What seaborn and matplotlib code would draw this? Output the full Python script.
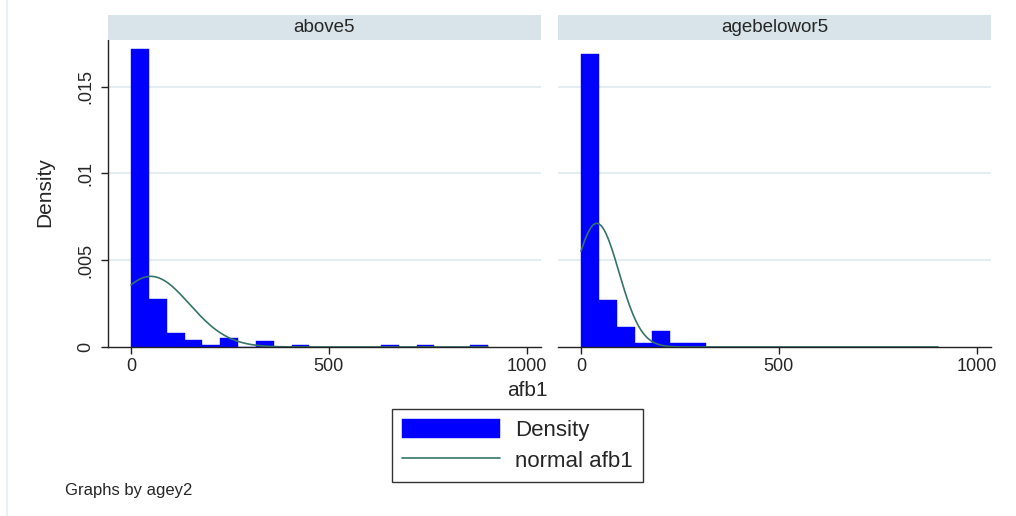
import numpy as np
import pandas as pd
import matplotlib
matplotlib.use("Agg")
import matplotlib.pyplot as plt
from matplotlib.lines import Line2D
import seaborn as sns

# Histogram of afb1 by age group (common bins across groups)
groups = ["above5", "agebelowor5"]
bin_start = 0.0
bin_width = 45.1
n_bins = 20

density_above5 = [0.01715, 0.00275, 0.00083, 0.00042, 0.000135, 0.00050, 0.0, 0.00035,
                  0.0, 0.000135, 0.0, 0.0, 0.0, 0.0, 0.000135, 0.0, 0.000135, 0.0, 0.0, 0.000135]
density_below5 = [0.01690, 0.00271, 0.00114, 0.00025, 0.00090, 0.00025, 0.00025, 0.0,
                  0.0, 0.0, 0.0, 0.0, 0.0, 0.0, 0.0, 0.0, 0.0, 0.0, 0.0, 0.0]

# Fitted normal parameters per group
normal_mean = [50.0, 40.0]
normal_sd = [98.0, 56.0]

x_ticks = [0, 500, 1000]
y_ticks = [0, 0.005, 0.01, 0.015]
y_ticklabels = ["0", ".005", ".01", ".015"]

sns.set_style("white")
plt.rcParams["font.family"] = ["Liberation Sans", "DejaVu Sans"]

W, H = 1016, 516
fig = plt.figure(figsize=(W / 100, H / 100), dpi=100)
fig.patch.set_facecolor("white")

BAR_C = "#0000ff"
LINE_C = "#357569"
GRID_C = "#e4eef1"
STRIP_C = "#d8e4ea"
AX_C = "#222222"

TICK_FS = 13
STRIP_FS = 13.5
TITLE_FS = 15
LEGEND_FS = 16
NOTE_FS = 12

bin_end = bin_start + bin_width * n_bins
centers = bin_start + bin_width * (np.arange(n_bins) + 0.5)
x_curve = np.linspace(bin_start, bin_end, 400)


def frac_rect(x0, y0, x1, y1):
    return [x0 / W, 1 - y1 / H, (x1 - x0) / W, (y1 - y0) / H]


panels = [(108, 541), (558, 991)]
plot_top, plot_bottom = 40, 347
dens_all = [density_above5, density_below5]

first_ax = None
for i, (g, (px0, px1)) in enumerate(zip(groups, panels)):
    ax = fig.add_axes(frac_rect(px0, plot_top, px1, plot_bottom))
    df = pd.DataFrame({"afb1": centers, "dens": dens_all[i]})
    sns.histplot(data=df, x="afb1", weights="dens", bins=n_bins,
                 binrange=(bin_start, bin_end), stat="count",
                 color=BAR_C, alpha=1.0, edgecolor=BAR_C, linewidth=0.3, ax=ax)
    pdf = np.exp(-0.5 * ((x_curve - normal_mean[i]) / normal_sd[i]) ** 2) / (normal_sd[i] * np.sqrt(2 * np.pi))
    sns.lineplot(x=x_curve, y=pdf, color=LINE_C, linewidth=1.2, ax=ax)

    ax.set_xlim(-58, 1036)
    ax.set_ylim(0, 0.01769)
    ax.set_xlabel("")
    ax.set_ylabel("")
    ax.set_facecolor("white")
    for yv in y_ticks[1:]:
        ax.axhline(yv, color=GRID_C, linewidth=1.5, zorder=0)
    ax.set_axisbelow(True)

    for s in ["top", "right"]:
        ax.spines[s].set_visible(False)
    ax.spines["bottom"].set_color(AX_C)
    ax.spines["bottom"].set_linewidth(1.0)
    ax.set_xticks(x_ticks)
    ax.set_xticklabels([str(t) for t in x_ticks], fontsize=TICK_FS)
    ax.tick_params(axis="x", direction="out", length=5, width=1.0, color=AX_C, pad=3,
                   bottom=True)
    if i == 0:
        ax.spines["left"].set_color(AX_C)
        ax.spines["left"].set_linewidth(1.0)
        ax.set_yticks(y_ticks)
        ax.set_yticklabels(y_ticklabels, fontsize=TICK_FS, rotation=90, va="center")
        ax.tick_params(axis="y", direction="out", length=5, width=1.0, color=AX_C, pad=5,
                       left=True)
        first_ax = ax
    else:
        ax.spines["left"].set_visible(False)
        ax.set_yticks([])

    # strip header
    sax = fig.add_axes(frac_rect(px0, 15, px1, 40))
    sax.set_facecolor(STRIP_C)
    sax.set_xticks([])
    sax.set_yticks([])
    for s in sax.spines.values():
        s.set_visible(False)
    sax.text(0.5, 0.5, g, ha="center", va="center", fontsize=STRIP_FS,
             transform=sax.transAxes)

fig.text(45 / W, 1 - 192 / H, "Density", rotation=90, ha="center", va="center",
         fontsize=TITLE_FS)
fig.text(527 / W, 1 - 390 / H, "afb1", ha="center", va="center", fontsize=TITLE_FS)
fig.text(65 / W, 1 - 490 / H, "Graphs by agey2", ha="left", va="center", fontsize=NOTE_FS)

# faint frame edge on the left
fig.add_artist(Line2D([7 / W, 7 / W], [0, 1], color="#e8f1f4", linewidth=1.5))

# legend
bar_h = first_ax.patches[0]
line_h = first_ax.lines[0]
leg = fig.legend([bar_h, line_h], ["Density", "normal afb1"],
                 loc="upper left", bbox_to_anchor=(392 / W, 1 - 409 / H),
                 fontsize=LEGEND_FS, frameon=True, fancybox=False, edgecolor="black",
                 handlelength=4.4, handleheight=0.95, handletextpad=0.68,
                 labelspacing=0.38, borderpad=0.45, borderaxespad=0)
leg.get_frame().set_linewidth(1.0)

fig.savefig("out.png", dpi=100)
